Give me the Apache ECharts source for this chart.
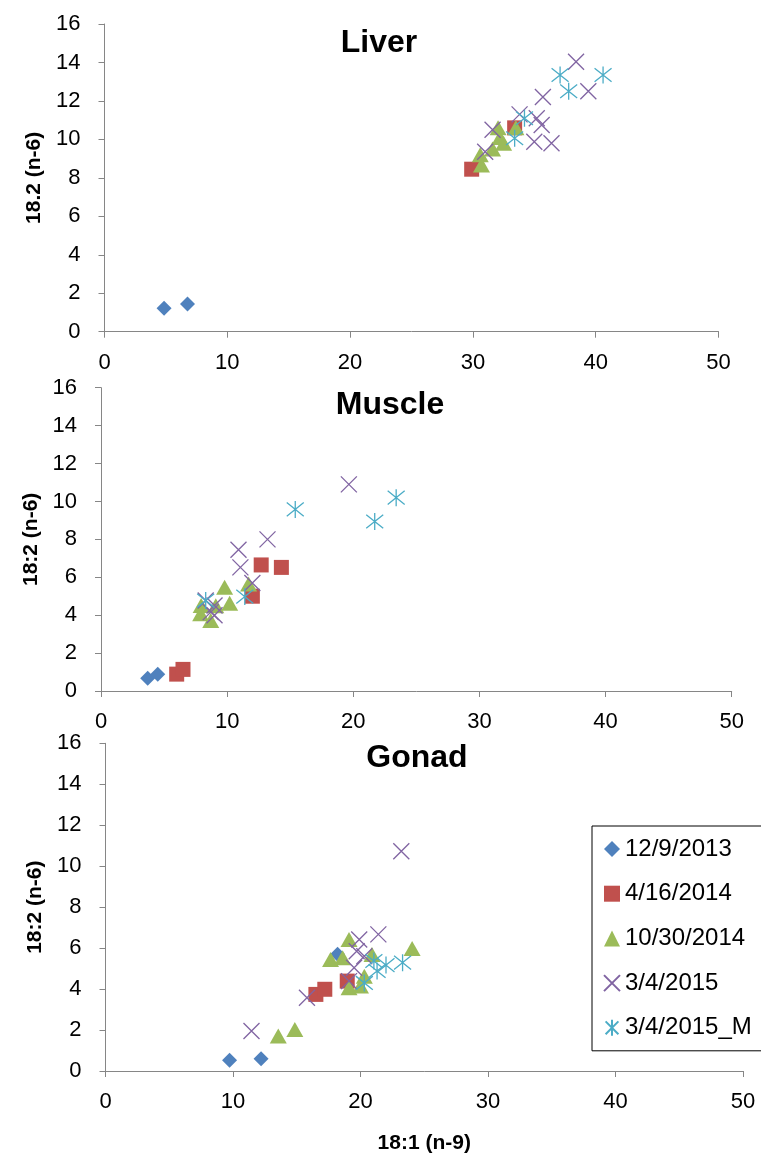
<!DOCTYPE html>
<html>
<head>
<meta charset="utf-8">
<script src="https://cdn.jsdelivr.net/npm/echarts@6/dist/echarts.min.js"></script>
<style>
  html, body { margin: 0; padding: 0; background: #fff; }
  #chart { width: 761px; height: 1155px; }
</style>
</head>
<body>
<div id="chart"></div>
<script>
// ---- data ----
const seriesNames = ['12/9/2013', '4/16/2014', '10/30/2014', '3/4/2015', '3/4/2015_M']
const panelTitles = ['Liver', 'Muscle', 'Gonad']
const yAxisNames = ['18.2 (n-6)', '18:2 (n-6)', '18:2 (n-6)']
const xAxisName = '18:1 (n-9)'
const xTicks = [0, 10, 20, 30, 40, 50]
const yTicks = [0, 2, 4, 6, 8, 10, 12, 14, 16]

// Liver
const liverDec2013 = [[4.85, 1.22], [6.76, 1.44]]
const liverApr2014 = [[29.9, 8.45], [33.4, 10.6]]
const liverOct2014 = [[30.7, 8.67], [30.6, 9.2], [31.6, 9.5], [32.05, 10.6], [32.5, 9.8], [32.2, 10.1], [33.5, 10.6]]
const liverMar2015 = [[38.4, 14.04], [39.4, 12.5], [35.7, 12.2], [33.8, 11.3], [35.2, 11.1], [35.6, 10.75],
  [31.6, 10.5], [31.0, 9.36], [35.0, 9.88], [36.4, 9.8]]
const liverMar2015M = [[37.1, 13.35], [40.6, 13.35], [37.8, 12.5], [34.2, 11.1], [33.4, 10.06]]

// Muscle
const muscleDec2013 = [[3.7, 0.67], [4.5, 0.89]]
const muscleApr2014 = [[6.0, 0.89], [6.5, 1.14], [12.7, 6.65], [14.3, 6.52], [12.0, 5.0]]
const muscleOct2014 = [[9.8, 5.47], [11.7, 5.65], [10.2, 4.63], [7.94, 4.51], [8.7, 3.72], [7.9, 4.08], [9.1, 4.5]]
const muscleMar2015 = [[19.65, 10.9], [13.2, 8.0], [10.9, 7.45], [11.05, 6.52], [12.0, 5.7], [8.3, 4.77],
  [9.0, 4.51], [8.7, 4.16], [9.0, 4.0]]
const muscleMar2015M = [[23.4, 10.2], [15.4, 9.58], [21.7, 8.94], [11.4, 4.98], [8.3, 4.77]]

// Gonad
const gonadDec2013 = [[9.73, 0.52], [12.2, 0.6], [18.2, 5.7]]
const gonadApr2014 = [[16.5, 3.74], [17.2, 3.99], [18.96, 4.39]]
const gonadOct2014 = [[13.55, 1.71], [14.85, 2.03], [19.1, 6.42], [17.65, 5.45], [18.6, 5.53], [20.9, 5.69],
  [24.05, 5.98], [19.1, 4.07], [20.0, 4.15], [20.3, 4.63]]
const gonadMar2015 = [[23.2, 10.73], [21.4, 6.67], [19.9, 6.42], [19.7, 5.85], [20.3, 5.6], [19.5, 5.04],
  [19.1, 4.39], [15.8, 3.58], [11.45, 1.95]]
const gonadMar2015M = [[23.3, 5.29], [22.0, 5.17], [21.3, 4.88], [21.05, 5.37], [20.3, 4.3]]

const panelData = [
  [liverDec2013, liverApr2014, liverOct2014, liverMar2015, liverMar2015M],
  [muscleDec2013, muscleApr2014, muscleOct2014, muscleMar2015, muscleMar2015M],
  [gonadDec2013, gonadApr2014, gonadOct2014, gonadMar2015, gonadMar2015M]
]

// ---- styles ----
const FONT = '"Liberation Sans", Arial, sans-serif'
const colors = ['#4F81BD', '#C0504D', '#9BBB59', '#8064A2', '#4BACC6']
const xMark = 'path://M0,0L10,10M10,0L0,10'
const starMark = 'path://M1,1L9,9M9,1L1,9M5,0L5,10'
const markerStyles = [
  { symbol: 'diamond', symbolSize: 15, itemStyle: { color: colors[0], opacity: 1 } },
  { symbol: 'rect', symbolSize: 15, itemStyle: { color: colors[1], opacity: 1 } },
  { symbol: 'triangle', symbolSize: [17, 15], itemStyle: { color: colors[2], opacity: 1 } },
  { symbol: xMark, symbolSize: 16, itemStyle: { color: 'rgba(0,0,0,0)', borderColor: colors[3], borderWidth: 1.3, opacity: 1 } },
  { symbol: starMark, symbolSize: 17, itemStyle: { color: 'rgba(0,0,0,0)', borderColor: colors[4], borderWidth: 1.3, opacity: 1 } }
]

const grids = [
  { left: 104.5, top: 24, width: 614, height: 307.7 },
  { left: 101, top: 387.7, width: 630.7, height: 303.3 },
  { left: 105.5, top: 743.3, width: 637.5, height: 328.3 }
]
const titlePos = [
  { left: 374, top: 22 },
  { left: 385, top: 384 },
  { left: 412, top: 737 }
]

const axisLine = { lineStyle: { color: '#868686', width: 1 } }
const axisTick = { length: 6, lineStyle: { color: '#868686', width: 1 } }
const labelStyle = { color: '#000', fontFamily: FONT, fontSize: 22 }

const option = {
  animation: false,
  backgroundColor: '#fff',
  title: panelTitles.map((t, i) => ({
    text: t,
    left: titlePos[i].left,
    top: titlePos[i].top,
    textAlign: 'center',
    textStyle: { color: '#000', fontFamily: FONT, fontSize: 32, fontWeight: 'bold' }
  })),
  legend: {
    orient: 'vertical',
    left: 592,
    top: 826,
    padding: [11, 40, 11, 11],
    itemGap: 20.7,
    itemWidth: 16,
    itemHeight: 16,
    borderColor: '#000',
    borderWidth: 1,
    data: seriesNames,
    textStyle: { color: '#000', fontFamily: FONT, fontSize: 24, lineHeight: 22 }
  },
  grid: grids,
  xAxis: grids.map((g, i) => ({
    type: 'value',
    gridIndex: i,
    min: xTicks[0],
    max: xTicks[xTicks.length - 1],
    interval: xTicks[1] - xTicks[0],
    name: i === 2 ? xAxisName : '',
    nameLocation: 'middle',
    nameGap: 62,
    nameTextStyle: { color: '#000', fontFamily: FONT, fontSize: 21, fontWeight: 'bold' },
    axisLine: axisLine,
    axisTick: axisTick,
    axisLabel: Object.assign({ margin: 20 }, labelStyle),
    splitLine: { show: false }
  })),
  yAxis: grids.map((g, i) => ({
    type: 'value',
    gridIndex: i,
    min: yTicks[0],
    max: yTicks[yTicks.length - 1],
    interval: yTicks[1] - yTicks[0],
    name: yAxisNames[i],
    nameLocation: 'middle',
    nameGap: 56,
    nameTextStyle: { color: '#000', fontFamily: FONT, fontSize: 21, fontWeight: 'bold' },
    axisLine: Object.assign({ show: true }, axisLine),
    axisTick: Object.assign({ show: true }, axisTick),
    axisLabel: Object.assign({ margin: 24 }, labelStyle),
    splitLine: { show: false }
  })),
  series: []
}

panelData.forEach((sets, p) => {
  sets.forEach((pts, s) => {
    option.series.push(Object.assign({
      type: 'scatter',
      name: seriesNames[s],
      xAxisIndex: p,
      yAxisIndex: p,
      data: pts
    }, markerStyles[s]))
  })
})

const chart = echarts.init(document.getElementById('chart'))
chart.setOption(option)
</script>
</body>
</html>
